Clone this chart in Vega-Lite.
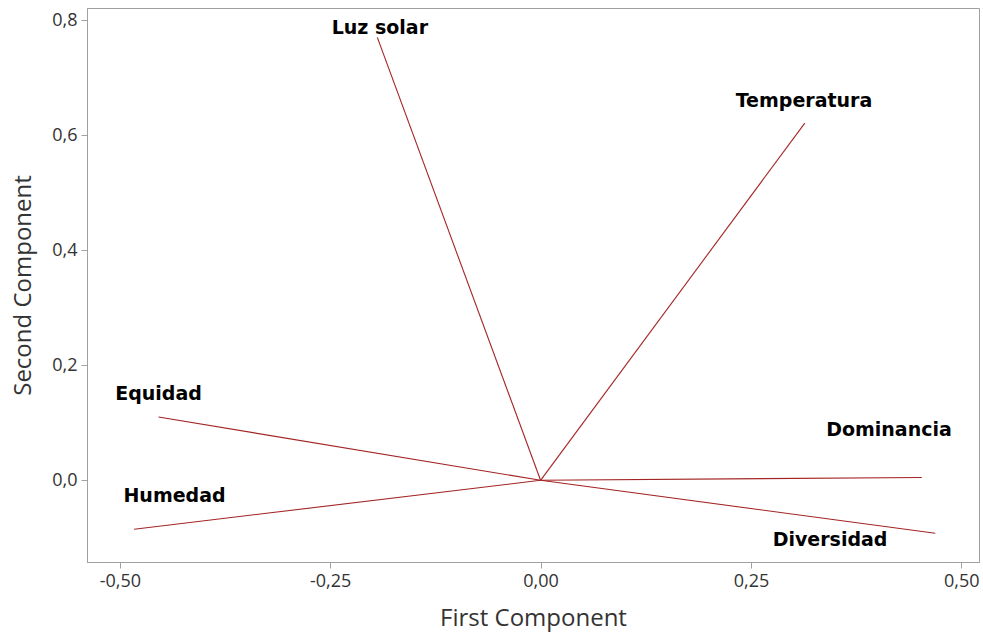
{
  "$schema": "https://vega.github.io/schema/vega-lite/v6.json",
  "autosize": "none",
  "width": 892,
  "height": 554,
  "padding": {"left": 87, "top": 8, "right": 4, "bottom": 73},
  "background": "white",
  "config": {
    "view": {"stroke": "#a0a0a0", "strokeWidth": 1},
    "axis": {
      "labelFont": "Open Sans",
      "titleFont": "Open Sans",
      "labelFontSize": 18,
      "titleFontSize": 24,
      "titleFontWeight": "normal",
      "labelColor": "#333333",
      "titleColor": "#333333",
      "domainColor": "#a0a0a0",
      "tickColor": "#a0a0a0",
      "tickSize": 6,
      "grid": false
    }
  },
  "data": {
    "values": [
      {"variable": "Luz solar", "pc1": -0.194, "pc2": 0.770, "labelX": -0.191, "labelY": 0.786},
      {"variable": "Temperatura", "pc1": 0.314, "pc2": 0.621, "labelX": 0.313, "labelY": 0.659},
      {"variable": "Equidad", "pc1": -0.454, "pc2": 0.110, "labelX": -0.454, "labelY": 0.150},
      {"variable": "Humedad", "pc1": -0.483, "pc2": -0.085, "labelX": -0.435, "labelY": -0.028},
      {"variable": "Dominancia", "pc1": 0.453, "pc2": 0.005, "labelX": 0.414, "labelY": 0.087},
      {"variable": "Diversidad", "pc1": 0.469, "pc2": -0.092, "labelX": 0.344, "labelY": -0.104}
    ]
  },
  "layer": [
    {
      "mark": {"type": "rule", "color": "#a32424", "strokeWidth": 1.1},
      "encoding": {
        "x": {
          "field": "pc1",
          "type": "quantitative",
          "title": "First Component",
          "scale": {"domain": [-0.539, 0.521], "nice": false, "zero": false},
          "axis": {
            "values": [-0.5, -0.25, 0, 0.25, 0.5],
            "labelExpr": "replace(replace(format(datum.value, '.2f'), '.', ','), '\u2212', '-')",
            "labelPadding": 4,
            "titlePadding": 16
          }
        },
        "y": {
          "field": "pc2",
          "type": "quantitative",
          "title": "Second Component",
          "scale": {"domain": [-0.142, 0.821], "nice": false, "zero": false},
          "axis": {
            "values": [0, 0.2, 0.4, 0.6, 0.8],
            "labelExpr": "replace(format(datum.value, '.1f'), '.', ',')",
            "labelPadding": 4,
            "titlePadding": 16
          }
        },
        "x2": {"datum": 0},
        "y2": {"datum": 0}
      }
    },
    {
      "mark": {
        "type": "text",
        "font": "DejaVu Sans",
        "fontWeight": "bold",
        "fontSize": 19,
        "color": "black",
        "align": "center",
        "baseline": "middle"
      },
      "encoding": {
        "x": {"field": "labelX", "type": "quantitative"},
        "y": {"field": "labelY", "type": "quantitative"},
        "text": {"field": "variable"}
      }
    }
  ]
}
